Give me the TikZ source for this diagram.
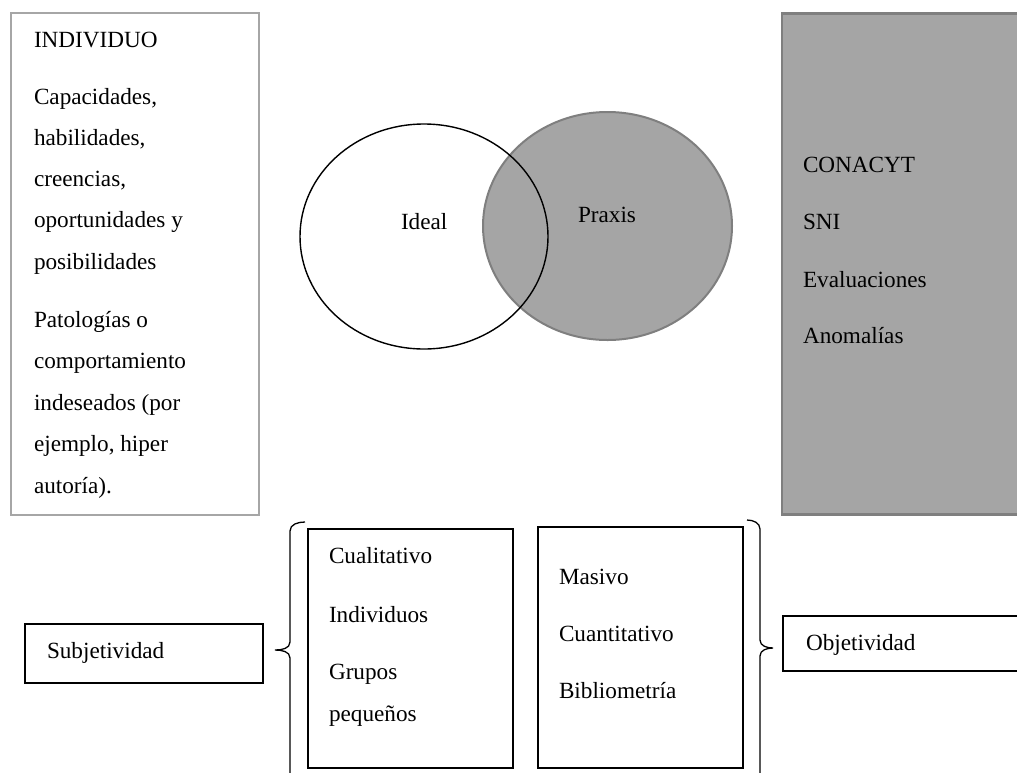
\documentclass[tikz,border=0pt]{standalone}
\usepackage{fontspec}
\setmainfont{Liberation Serif}
\usetikzlibrary{shapes.geometric}
\definecolor{boxgray}{HTML}{A5A5A5}
\definecolor{edgegray}{HTML}{7F7F7F}
\definecolor{lightedge}{HTML}{A6A6A6}
\begin{document}
\begin{tikzpicture}[x=1pt,y=-1pt,
  rbox/.style={draw, inner sep=0pt, outer sep=0pt},
  txt/.style={anchor=base west, inner sep=0pt, outer sep=0pt, font=\fontsize{23.2}{28}\selectfont},
  bracepath/.style={draw=black, line width=1.3pt}]
\useasboundingbox (0,0) rectangle (1017,772);
% left box
\node[rbox, draw=lightedge, line width=2pt, fill=white, minimum width=248pt, minimum height=502pt] (indiv) at (135,264) {};
% right gray box
\node[rbox, draw=edgegray, line width=2.5pt, fill=boxgray, minimum width=240pt, minimum height=501pt] (conacyt) at (902,264) {};
% circles
\node[draw=edgegray, line width=2pt, fill=boxgray, ellipse, minimum width=249pt, minimum height=228pt, inner sep=0pt] (praxis) at (607.5,226) {};
\node[draw=black, line width=1.4pt, ellipse, minimum width=248pt, minimum height=225pt, inner sep=0pt] (ideal) at (424,236.5) {};
% bottom boxes
\node[rbox, line width=2pt, minimum width=205pt, minimum height=239pt] (cuali) at (410.5,648.5) {};
\node[rbox, line width=2pt, minimum width=205pt, minimum height=241pt] (masivo) at (640.5,647.5) {};
\node[rbox, line width=2pt, minimum width=238pt, minimum height=59pt] (subj) at (144,653.5) {};
\node[rbox, line width=2pt, minimum width=240pt, minimum height=55pt] (obj) at (903,643.5) {};
% braces
\draw[bracepath] (305,522) to[out=180,in=90] (290,531) -- (290,642) to[out=-90,in=0] (275,650) to[out=0,in=90] (290,658) -- (290,775);
\draw[bracepath] (747,520) to[out=0,in=90] (760,529) -- (760,640) to[out=-90,in=180] (773,648) to[out=180,in=90] (760,656) -- (760,775);
% left box text
\node[txt] (t1) at (34,47) {INDIVIDUO};
\node[txt] (t2) at (34,104) {Capacidades,};
\node[txt] (t3) at (34,145.5) {habilidades,};
\node[txt] (t4) at (34,186.5) {creencias,};
\node[txt] (t5) at (34,227.5) {oportunidades y};
\node[txt] (t6) at (34,269) {posibilidades};
\node[txt] (t7) at (34,327) {Patologías o};
\node[txt] (t8) at (34,368.5) {comportamiento};
\node[txt] (t9) at (34,410) {indeseados (por};
\node[txt] (t10) at (34,451.5) {ejemplo, hiper};
\node[txt] (t11) at (34,493) {autoría).};
% right box text
\node[txt] (r1) at (803,172) {CONACYT};
\node[txt] (r2) at (803,229) {SNI};
\node[txt] (r3) at (803,287) {Evaluaciones};
\node[txt] (r4) at (803,343) {Anomalías};
% circle text
\node[txt] (ti) at (401,229) {Ideal};
\node[txt] (tp) at (578,222) {Praxis};
% bottom text
\node[txt] (c1) at (329,563) {Cualitativo};
\node[txt] (c2) at (329,622) {Individuos};
\node[txt] (c3) at (329,679) {Grupos};
\node[txt] (c4) at (329,721) {pequeños};
\node[txt] (m1) at (559,584) {Masivo};
\node[txt] (m2) at (559,641) {Cuantitativo};
\node[txt] (m3) at (559,698) {Bibliometría};
\node[txt] (s1) at (47,658) {Subjetividad};
\node[txt] (o1) at (806,650) {Objetividad};
\end{tikzpicture}
\end{document}
